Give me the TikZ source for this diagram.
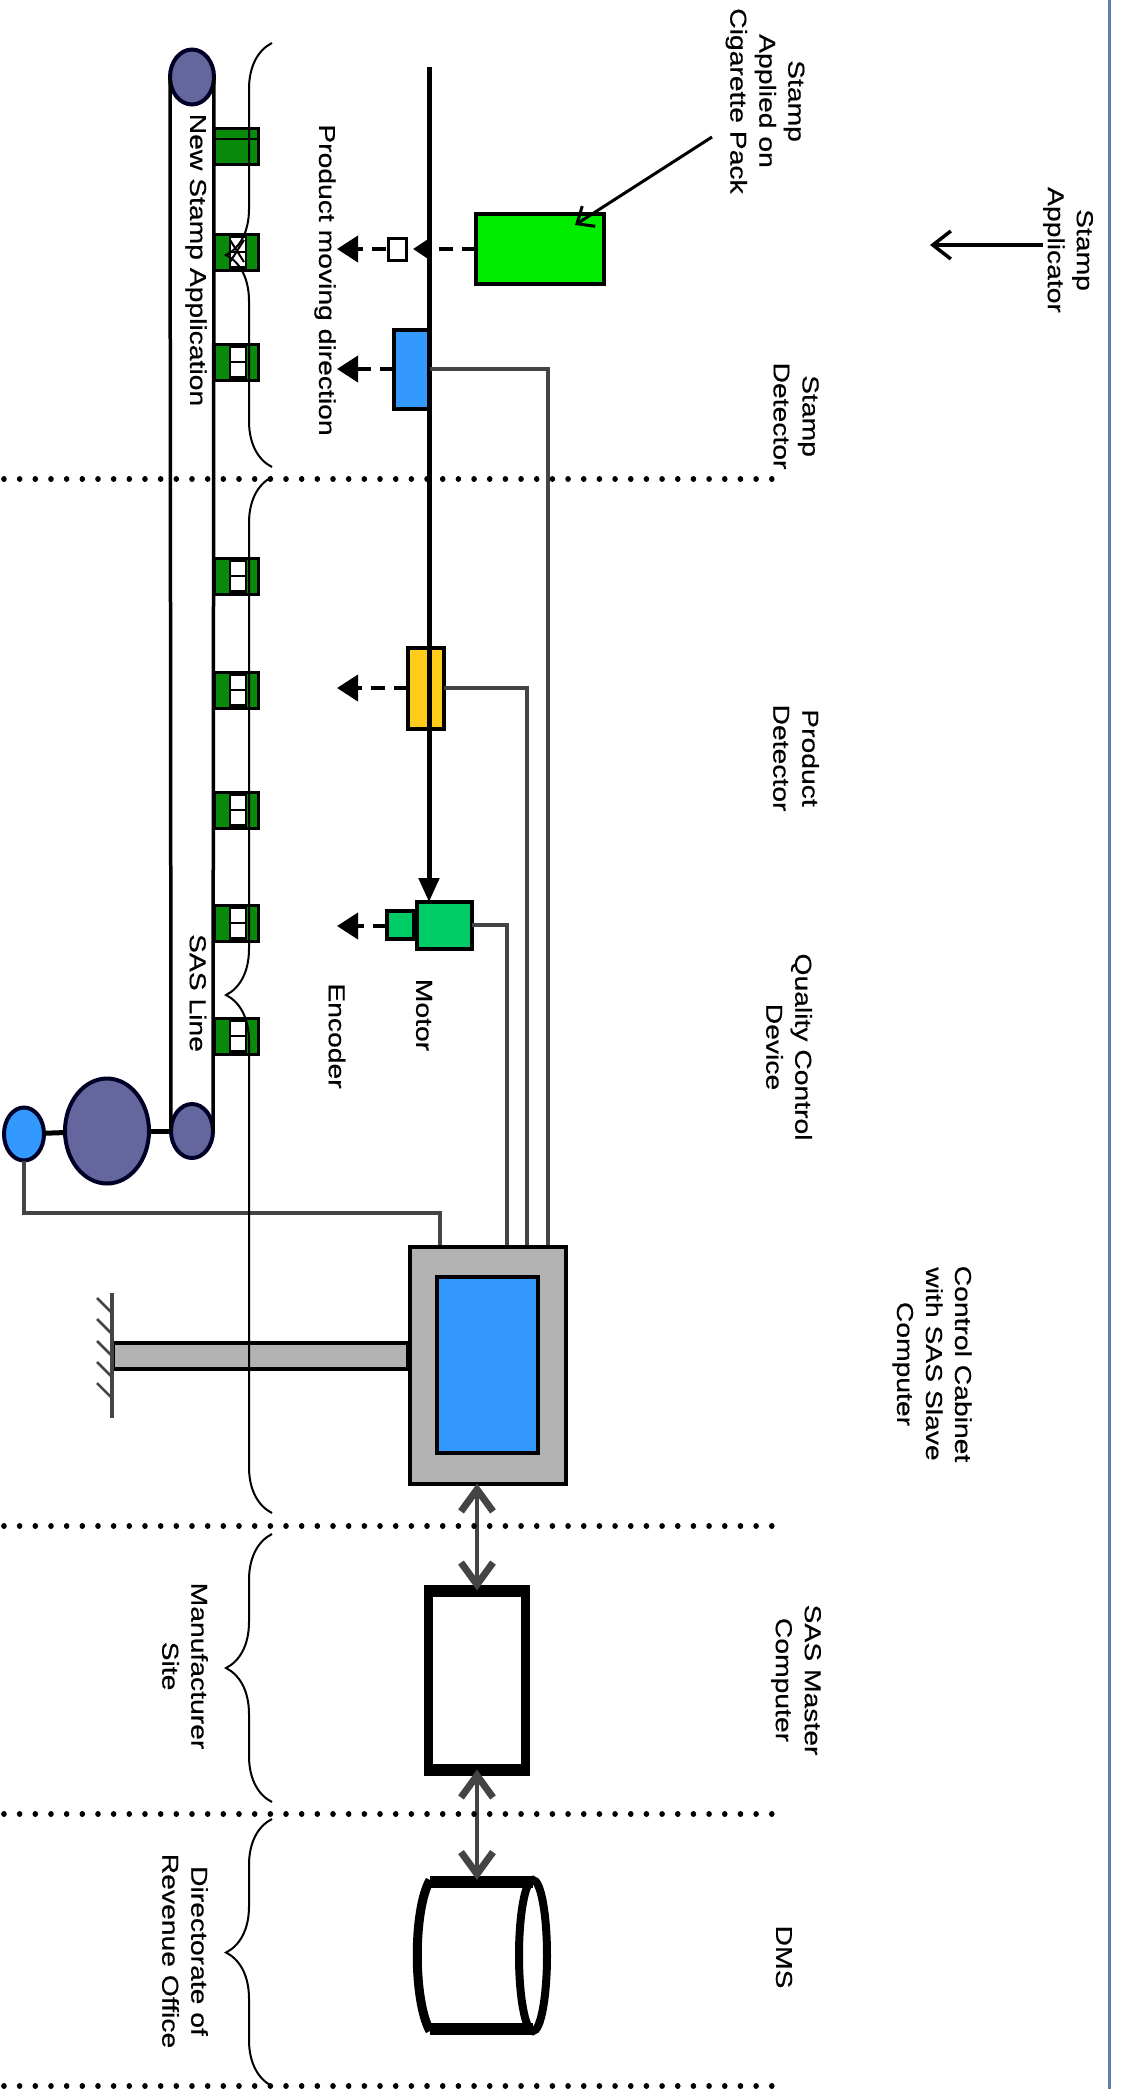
\documentclass[tikz,border=0pt]{standalone}
\usepackage{fontspec}
\setmainfont{Liberation Sans}[FakeBold=0.4]
\usetikzlibrary{arrows.meta}
\usetikzlibrary{shapes.geometric}
\usetikzlibrary{decorations.pathreplacing}
\definecolor{pulleypurple}{HTML}{66669E}
\definecolor{skyblue}{HTML}{3399FF}
\definecolor{stampgreen}{HTML}{0A8A0A}
\definecolor{motorgreen}{HTML}{00CC66}
\definecolor{wiregray}{HTML}{444444}
\definecolor{framegray}{HTML}{B2B2B2}
\definecolor{frameblue}{HTML}{5B7FA8}
\definecolor{detectoryellow}{HTML}{FFCC1A}
\tikzset{
  txt/.style={yscale=1.23,rotate=-90,align=center,font=\fontsize{23}{29}\selectfont,inner sep=0pt},
  box/.style={draw,inner sep=0pt,outer sep=0pt,line width=4pt},
  pulley/.style={ellipse,draw=black!85!blue,fill=pulleypurple,inner sep=0pt,outer sep=0pt,line width=4pt},
  wire/.style={draw=wiregray,line width=4pt},
  dashflow/.style={line width=4pt,dash pattern=on 14pt off 9pt,-{Triangle[length=21pt,width=26pt]}},
  twoway/.style={draw=wiregray,line width=4pt,{Straight Barb[length=22pt,width=32pt,line width=7pt]}-{Straight Barb[length=22pt,width=32pt,line width=7pt]}},
  zone/.style={line width=5.5pt,line cap=round,dash pattern=on 0.1pt off 15.57pt},
  bracket/.style={decorate,decoration={brace,amplitude=46pt},line width=2pt},
  stampbox/.style={box,fill=stampgreen,line width=3pt,minimum width=44pt,minimum height=36pt},
  heavy/.style={line width=12pt,shorten <=-4.5pt,shorten >=-4.5pt}
}
\begin{document}
\begin{tikzpicture}[x=1pt,y=-1pt]
\useasboundingbox (0,0) rectangle (1122,2089);
\draw[frameblue,line width=3pt] (1109,0) -- (1109,2089);
% stamps on the line
\foreach \n/\y in {1/146,2/252,3/362,4/576,5/690,6/810,7/923,8/1036}{
  \node[stampbox] (stamp\n) at (236,\y) {};
  \ifnum\n>1
    \node[box,fill=white,line width=2.5pt,minimum width=16pt,minimum height=31pt] (pack\n) at (238,\y) {};
    \draw[line width=2.5pt] (pack\n.west) -- (pack\n.east);
  \else
    \draw[line width=2.5pt] (stamp\n.west) ++(0,-7) -- ++(44,0);
  \fi
}
\draw[line width=2pt] (230,240) -- (244,262) (230,262) -- (244,240);
% belt and drive
\node[pulley,minimum width=44pt,minimum height=55pt] (topwheel) at (192,77) {};
\node[pulley,minimum width=42pt,minimum height=54pt] (botwheel) at (192,1131) {};
\node[pulley,minimum width=84pt,minimum height=105pt] (drivewheel) at (107,1131) {};
\node[pulley,fill=skyblue,minimum width=40pt,minimum height=53pt] (drivemotor) at (24,1134) {};
\draw[line width=3.5pt] (topwheel.west) -- (botwheel.west);
\draw[line width=3.5pt] (topwheel.east) -- (botwheel.east);
\draw[line width=5pt] (drivemotor) -- (drivewheel);
\draw[line width=5pt] (drivewheel) -- (botwheel);
% devices
\node[box,fill=green!93!black,minimum width=128pt,minimum height=70pt] (applicator) at (540,248.5) {};
\node[box,fill=skyblue,minimum width=36pt,minimum height=79pt] (stampdet) at (412,369) {};
\node[box,fill=detectoryellow,minimum width=36pt,minimum height=81pt] (proddet) at (426,688) {};
\node[box,fill=motorgreen,minimum width=55pt,minimum height=47pt] (motor) at (444.5,925.5) {};
\node[box,fill=motorgreen,minimum width=27pt,minimum height=28pt] (encoder) at (400,925) {};
\node[box,fill=white,line width=3pt,minimum width=18pt,minimum height=22pt] (newstamp) at (397,249) {};
\node[box,fill=framegray,minimum width=156pt,minimum height=237pt] (cabinet) at (488,1365) {};
\node[box,fill=skyblue,minimum width=101pt,minimum height=176pt] (slave) at (487.5,1364.5) {};
\node[box,line width=9pt,minimum width=97pt,minimum height=179pt] (master) at (477,1680) {};
\draw[heavy] (master.north west) -- (master.north east);
\draw[heavy] (master.south west) -- (master.south east);
\node[box,fill=framegray,line width=3.5pt,minimum width=295pt,minimum height=26pt] (earthbar) at (260.5,1356) {};
% database drum
\coordinate (dmstop) at (477,1880);
\draw[line width=9pt] (430,1880) .. controls (413,1910) and (413,2000) .. (430,2031);
\draw[line width=12pt] (430,2029) -- (533,2029);
\draw[line width=12pt] (533,1882) -- (430,1882);
\draw[line width=8pt] (533,1955.5) ellipse (14 and 75.5);
% main product line
\coordinate (linestart) at (429,67);
\draw[line width=5pt,-{Triangle[length=24pt,width=20pt]}] (linestart) -- (linestart |- motor.north);
\draw[line width=3pt] (proddet.north -| linestart) -- (proddet.south -| linestart);
% flow arrows
\coordinate (tipmain) at (413,249);
\coordinate (tipa) at (337,249);
\coordinate (tipb) at (337,369);
\coordinate (tipc) at (337,688);
\coordinate (tipd) at (337,926);
\draw[dashflow,-{Triangle[length=16pt,width=20pt]}] (applicator.west |- newstamp) -- (tipmain);
\draw[dashflow] (newstamp) ++(-11,0) -- (tipa);
\draw[dashflow] (stampdet.west |- tipb) -- (tipb);
\draw[dashflow] (proddet.west |- tipc) -- (tipc);
\draw[dashflow] (encoder.west |- tipd) -- (tipd);
% signal wires
\draw[wire] (drivemotor.south) |- (440,1213) -- (440,1245);
\draw[wire] (encoder.east -| motor.east) -| (506.5,1245);
\draw[wire] (proddet.east) -| (527,1245);
\draw[wire] (stampdet.east) -| (548,1245);
% earth
\coordinate (earthtop) at (112,1293);
\draw[wiregray,line width=3.5pt] (earthtop) -- (112,1418);
\foreach \y in {1298,1319,1341,1362,1383}
  \draw[wiregray,line width=2.5pt] (97,\y) -- ++(15,15);
% links to the offices
\draw[twoway] (master.north |- cabinet.south) -- (master.north);
\draw[twoway] (master.south) -- (dmstop);
% callout arrows
\node[txt] (stamppack) at (765,101) {Stamp\\Applied on\\Cigarette Pack};
\node[txt] (applabel) at (1068,250) {Stamp\\Applicator};
\coordinate (packfrom) at (712,137);
\coordinate (packto) at (575,225);
\coordinate (appto) at (930,245);
\draw[line width=3pt,-{Straight Barb[length=14pt,width=24pt,line width=3pt]}] (packfrom) -- (packto);
\draw[line width=3.5pt,-{Straight Barb[length=18pt,width=28pt,line width=3.5pt]}] (applabel.south |- appto) -- (appto);
% zones
\foreach \y in {479,1526,1814,2086}
  \draw[zone] (3.9,\y) -- (773,\y);
\draw[bracket] (272,467) -- (272,43);
\draw[bracket] (272,1513) -- (272,477);
\draw[bracket] (272,1802) -- (272,1534);
\draw[bracket] (272,2086) -- (272,1819);
% labels
\node[txt] (stampdetlabel) at (796,416) {Stamp\\Detector};
\node[txt] (proddetlabel) at (796,758) {Product\\Detector};
\node[txt] (qclabel) at (789,1047) {Quality Control\\Device};
\node[txt] (cabinetlabel) at (932,1364) {Control Cabinet\\with SAS Slave\\Computer};
\node[txt] (masterlabel) at (796,1680) {SAS Master\\Computer};
\node[txt] (dmslabel) at (784,1957) {DMS};
\node[txt] (sitelabel) at (185,1666) {Manufacturer\\Site};
\node[txt] (officelabel) at (185,1951) {Directorate of\\Revenue Office};
\node[txt] (motorlabel) at (424,1015) {Motor};
\node[txt] (encoderlabel) at (337,1036) {Encoder};
\node[txt] (newlabel) at (196,260) {New Stamp Application};
\node[txt] (linelabel) at (198,993) {SAS Line};
\node[txt] (dirlabel) at (325,280) {Product moving direction};
\end{tikzpicture}
\end{document}
